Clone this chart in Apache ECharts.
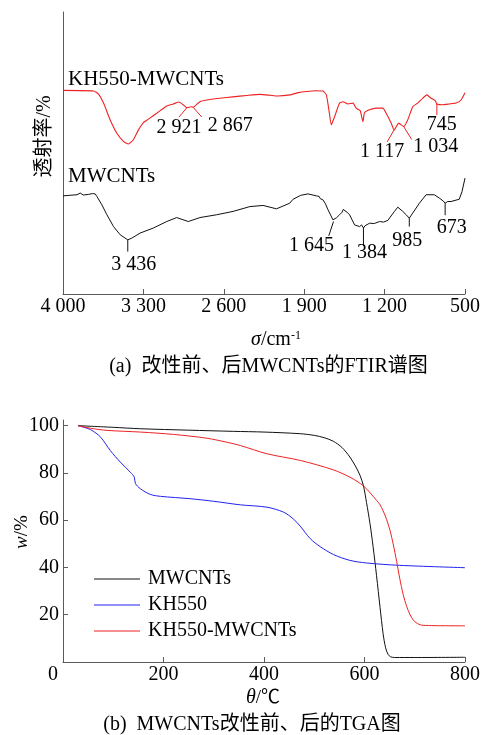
<!DOCTYPE html>
<html>
<head>
<meta charset="utf-8">
<script src="https://cdn.jsdelivr.net/npm/echarts@6/dist/echarts.min.js"></script>
<style>
html,body{margin:0;padding:0;background:#fff;}
#chart{width:483px;height:735px;}
</style>
</head>
<body>
<div id="chart"></div>
<script>
// ---------- (a) FTIR data ----------
const ftirXTicks = [4000, 3300, 2600, 1900, 1200, 500];
const redWave = [4000,3734,3691,3647,3589,3531,3474,3430,3387,3343,3300,3257,3184,3097,3039,2990,2953,2921,2880,2867,2808,2749,2634,2521,2400,2286,2200,2130,2026,1950,1881,1800,1737,1707,1685,1664,1635,1592,1563,1520,1476,1447,1412,1389,1375,1331,1273,1216,1186,1143,1117,1077,1034,999,955,912,868,833,795,760,745,695,636,578,535,500];
const redTrans = [72.2,72.0,70.9,67.7,61.7,57.0,54.1,53.2,54.7,58.2,60.8,62.0,64.1,66.7,67.4,68.1,67.1,66.1,66.4,66.2,68.2,68.8,69.4,69.9,70.4,70.8,70.5,70.2,70.6,71.4,71.8,72.1,72.0,70.6,65.3,60.0,62.9,67.7,68.2,67.4,67.7,65.9,65.0,61.1,64.3,65.3,65.9,65.9,64.1,60.6,58.2,60.6,59.4,61.7,66.4,67.7,69.4,70.6,69.4,68.6,67.4,67.1,67.4,67.7,68.8,71.4];
const blackWave = [4000,3940,3878,3850,3824,3780,3745,3734,3720,3705,3661,3618,3560,3502,3436,3401,3329,3213,3097,3010,2909,2808,2662,2518,2373,2258,2141,2026,1997,1930,1867,1794,1770,1760,1737,1715,1693,1670,1650,1645,1620,1592,1570,1560,1548,1527,1505,1461,1418,1400,1384,1370,1331,1290,1244,1210,1172,1114,1085,1042,1010,985,955,897,839,767,723,690,673,650,622,550,526,500];
const blackTrans = [34.8,35.0,35.2,35.8,35.1,35.3,35.6,36.2,35.5,34.6,31.6,28.1,23.9,21.0,19.2,19.8,21.6,23.4,25.7,27.1,25.7,27.1,28.1,29.3,31.0,31.4,30.2,32.2,33.6,35.0,35.5,34.8,34.6,33.8,33.4,32.0,29.9,28.0,26.3,25.7,27.0,28.1,29.0,30.0,29.6,29.0,28.1,24.5,23.9,24.5,23.4,24.2,25.1,25.0,25.7,25.5,26.1,29.3,30.8,29.3,28.0,26.9,28.7,32.2,35.2,35.2,34.0,33.0,32.2,32.8,32.8,33.6,36.3,41.1];
const redPeaks = [2921, 2867, 1117, 1034, 745];
const blackPeaks = [3436, 1645, 1384, 985, 673];

// ---------- (b) TGA data ----------
const tgaXTicks = [0, 200, 400, 600, 800];
const tgaYTicks = [20, 40, 60, 80, 100];
const mwTemp = [30,100,154,250,339,400,472,500,520,538,555,571,583,591,598,604,611,617,624,631,637,642,647,652,660,700,800];
const mwWeight = [100,99.3,98.7,98.1,97.6,97.3,96.6,95.9,94.9,93.4,90.8,86.7,82.5,79.0,74.5,67.5,58.5,49.0,36.5,23.0,12.0,6.0,3.2,2.2,1.9,1.9,2.0];
const khTemp = [30,55,75,94,114,134,142,144,154,174,194,253,300,353,406,439,458,472,492,512,538,571,604,670,800];
const khWeight = [100,98.3,95.1,89.5,84.6,80.3,78.2,75.6,73.3,70.9,70.1,69.1,68.0,66.5,65.5,63.4,60.6,57.5,52.2,48.8,45.5,43.0,41.9,40.9,39.9];
const kmTemp = [30,55,88,154,220,286,326,353,406,472,538,571,598,624,631,637,644,651,657,664,670,677,684,690,697,705,717,800];
const kmWeight = [100,98.9,98.0,97.3,96.3,94.7,93.0,91.6,88.1,85.3,81.3,78.2,74.5,68.4,66.5,64.0,60.3,55.5,50.0,42.5,35.5,28.5,23.5,20.3,17.8,16.3,15.5,15.3];
const tgaNames = ['MWCNTs', 'KH550', 'KH550-MWCNTs'];

// ---------- styling / layout (not data) ----------
const SERIF = '"Liberation Serif","Times New Roman",serif';
const CJK = '"Liberation Serif","Noto Sans CJK SC",serif';
const AX = '#5a5a5a';
const RED = '#ee2222';
const BLUE = '#2222ee';
const BLACK = '#111111';
// leader line end (lx,ly) and label centre (tx,ty) offsets from each peak, px
const redLayout = [
  {lx:-8, ly:9.5, tx:-8, ty:20},
  {lx:8.6, ly:9.7, tx:37, ty:18},
  {lx:-7, ly:12, tx:-12, ty:21.5},
  {lx:8, ly:13, tx:32, ty:20.5},
  {lx:0, ly:11, tx:5, ty:21}
];
const blackLayout = [
  {lx:0, ly:11.7, tx:6, ty:24.5},
  {lx:-4.7, ly:14.3, tx:-22, ty:24.5},
  {lx:0, ly:18, tx:1, ty:24.5},
  {lx:0, ly:8.4, tx:-2, ty:22.5},
  {lx:0, ly:12, tx:6.5, ty:24.5}
];

function fmtNum(v) {
  if (v >= 1000) return Math.floor(v / 1000) + ' ' + String(v % 1000).padStart(3, '0');
  return String(v);
}
function zip(a, b) { return a.map((x, i) => [x, b[i]]); }
function peakData(peaks, wave, trans) {
  return peaks.map((p, i) => [p, trans[wave.indexOf(p)], i]);
}
function annotRender(layout, color) {
  return function (params, api) {
    const p = api.coord([api.value(0), api.value(1)]);
    const L = layout[api.value(2)];
    return {
      type: 'group',
      children: [
        {type: 'line', shape: {x1: p[0], y1: p[1], x2: p[0] + L.lx, y2: p[1] + L.ly},
         style: {stroke: color, lineWidth: 1}},
        {type: 'text', x: p[0] + L.tx, y: p[1] + L.ty,
         style: {text: fmtNum(api.value(0)), fill: '#000', font: '20px ' + SERIF,
                 align: 'center', verticalAlign: 'middle'}}
      ]
    };
  };
}

const chart = echarts.init(document.getElementById('chart'), null, {renderer: 'canvas'});
const option = {
  backgroundColor: '#fff',
  animation: false,
  grid: [
    {left: 63, top: 12, width: 403, height: 282},
    {left: 63, top: 420, width: 402, height: 242}
  ],
  xAxis: [
    {gridIndex: 0, type: 'value', inverse: true, min: 500, max: 4000, interval: 700,
     axisLine: {show: true, lineStyle: {color: AX, width: 1}},
     axisTick: {show: true, inside: true, length: 5, lineStyle: {color: AX}},
     axisLabel: {color: '#000', fontFamily: SERIF, fontSize: 20, margin: 3,
                 formatter: v => fmtNum(v)},
     splitLine: {show: false}},
    {gridIndex: 1, type: 'value', min: 0, max: 800, interval: 200,
     axisLine: {show: true, onZero: false, lineStyle: {color: AX, width: 1}},
     axisTick: {show: true, inside: true, length: 5, lineStyle: {color: AX}, customValues: [200, 400, 600, 800]},
     axisLabel: {color: '#000', fontFamily: SERIF, fontSize: 20, margin: 3,
                 customValues: tgaXTicks,
                 formatter: v => v === 0 ? '{z|0}' : String(v),
                 rich: {z: {fontFamily: SERIF, fontSize: 20, color: '#000', padding: [0, 20, 0, 0]}}},
     splitLine: {show: false}}
  ],
  yAxis: [
    {gridIndex: 0, type: 'value', min: 0, max: 100,
     axisLine: {show: true, lineStyle: {color: AX, width: 1}},
     axisTick: {show: false}, axisLabel: {show: false}, splitLine: {show: false}},
    {gridIndex: 1, type: 'value', min: 0, max: 102.4,
     axisLine: {show: true, onZero: false, lineStyle: {color: AX, width: 1}},
     axisTick: {show: true, inside: true, length: 5, lineStyle: {color: AX}, customValues: tgaYTicks},
     axisLabel: {color: '#000', fontFamily: SERIF, fontSize: 20, margin: 4, customValues: tgaYTicks},
     splitLine: {show: false}}
  ],
  legend: {
    data: tgaNames, orient: 'vertical', left: 94, top: 569, padding: 0,
    itemGap: 6, itemWidth: 46, itemHeight: 1.2, icon: 'rect',
    textStyle: {fontFamily: SERIF, fontSize: 20, color: '#000', lineHeight: 20, padding: [0, 0, 0, 3]}
  },
  series: [
    {name: 'FTIR-KH550-MWCNTs', type: 'line', xAxisIndex: 0, yAxisIndex: 0, data: zip(redWave, redTrans),
     showSymbol: false, smooth: 0.15, lineStyle: {color: RED, width: 1.1}, itemStyle: {color: RED}},
    {name: 'FTIR-MWCNTs', type: 'line', xAxisIndex: 0, yAxisIndex: 0, data: zip(blackWave, blackTrans),
     showSymbol: false, lineStyle: {color: BLACK, width: 1}, itemStyle: {color: BLACK}},
    {name: 'peaks-red', type: 'custom', xAxisIndex: 0, yAxisIndex: 0, data: peakData(redPeaks, redWave, redTrans),
     renderItem: annotRender(redLayout, RED), silent: true},
    {name: 'peaks-black', type: 'custom', xAxisIndex: 0, yAxisIndex: 0, data: peakData(blackPeaks, blackWave, blackTrans),
     renderItem: annotRender(blackLayout, BLACK), silent: true},
    {name: tgaNames[0], type: 'line', xAxisIndex: 1, yAxisIndex: 1, data: zip(mwTemp, mwWeight),
     showSymbol: false, smooth: 0.3, lineStyle: {color: BLACK, width: 1}, itemStyle: {color: BLACK}},
    {name: tgaNames[1], type: 'line', xAxisIndex: 1, yAxisIndex: 1, data: zip(khTemp, khWeight),
     showSymbol: false, smooth: 0.3, lineStyle: {color: BLUE, width: 1}, itemStyle: {color: BLUE}},
    {name: tgaNames[2], type: 'line', xAxisIndex: 1, yAxisIndex: 1, data: zip(kmTemp, kmWeight),
     showSymbol: false, smooth: 0.3, lineStyle: {color: RED, width: 1}, itemStyle: {color: RED}}
  ],
  graphic: [
    {type: 'text', x: 68, y: 79, style: {text: 'KH550-MWCNTs', font: '21px ' + SERIF, fill: '#000', align: 'left', verticalAlign: 'middle'}},
    {type: 'text', x: 68, y: 176.5, style: {text: 'MWCNTs', font: '21px ' + SERIF, fill: '#000', align: 'left', verticalAlign: 'middle'}},
    {type: 'text', x: 45, y: 136.5, rotation: Math.PI / 2,
     style: {text: '透射率/%', font: '20px ' + CJK, fill: '#000', align: 'center', verticalAlign: 'middle'}},
    {type: 'text', x: 276, y: 340,
     style: {text: '{i|σ}/cm{s|-1}', font: '20px ' + SERIF, fill: '#000', align: 'center', verticalAlign: 'middle',
             rich: {i: {fontStyle: 'italic', fontFamily: SERIF, fontSize: 20, fill: '#000'},
                    s: {fontFamily: SERIF, fontSize: 12, fill: '#000', verticalAlign: 'top', padding: [0, 0, 8, 0]}}}},
    {type: 'text', x: 268.5, y: 367,
     style: {text: '(a)  改性前、后MWCNTs的FTIR谱图', font: '20px ' + CJK, fill: '#000', align: 'center', verticalAlign: 'middle'}},
    {type: 'text', x: 22, y: 532, rotation: Math.PI / 2,
     style: {text: '{i|w}/%', font: '19px ' + SERIF, fill: '#000', align: 'center', verticalAlign: 'middle',
             rich: {i: {fontStyle: 'italic', fontFamily: SERIF, fontSize: 19, fill: '#000'}}}},
    {type: 'text', x: 263, y: 698,
     style: {text: '{i|θ}/℃', font: '19px ' + CJK, fill: '#000', align: 'center', verticalAlign: 'middle',
             rich: {i: {fontStyle: 'italic', fontFamily: SERIF, fontSize: 20, fill: '#000'}}}},
    {type: 'text', x: 252, y: 725,
     style: {text: '(b)  MWCNTs改性前、后的TGA图', font: '20px ' + CJK, fill: '#000', align: 'center', verticalAlign: 'middle'}}
  ]
};
chart.setOption(option);
</script>
</body>
</html>
